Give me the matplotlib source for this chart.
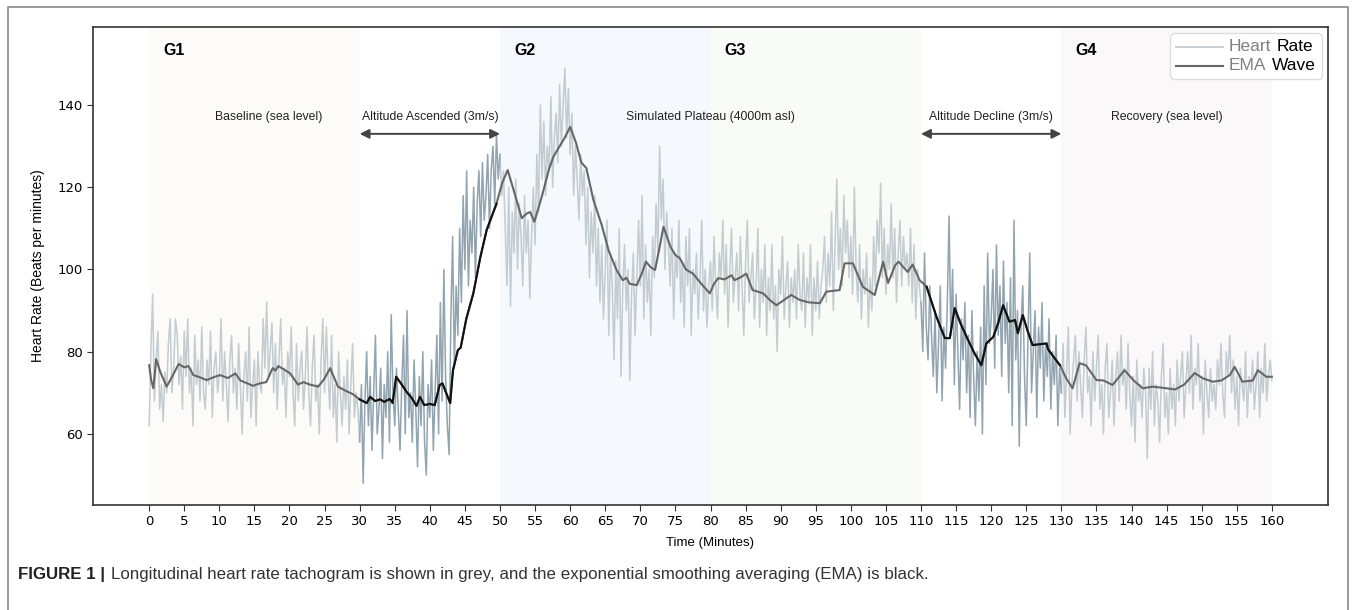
import matplotlib
matplotlib.use("Agg")
import matplotlib.pyplot as plt
from matplotlib.lines import Line2D
from matplotlib.offsetbox import AnchoredOffsetbox, DrawingArea, HPacker, TextArea, VPacker
import numpy as np

# raw heart rate, one sample every 15 s (0.25 min)
hr_g1 = [62, 80, 94, 68, 78, 85, 66, 72,
         63, 75, 70, 82, 88, 70, 76, 88,
         84, 72, 79, 66, 85, 74, 88, 70,
         76, 62, 84, 72, 78, 68, 86, 70,
         66, 78, 72, 85, 64, 76, 80, 70,
         74, 88, 68, 80, 72, 63, 78, 84,
         70, 76, 66, 82, 72, 60, 74, 80,
         68, 86, 64, 72, 78, 62, 80, 72,
         70, 88, 76, 92, 74, 80, 87, 70,
         82, 66, 78, 88, 72, 76, 64, 80,
         74, 86, 70, 62, 82, 68, 76, 80,
         66, 74, 86, 70, 62, 76, 84, 68,
         72, 60, 78, 88, 70, 86, 74, 66,
         84, 64, 72, 58, 80, 70, 62, 74,
         66, 78, 60, 72, 82, 64, 70, 66]
hr_ascent = [58, 72, 48, 68, 80, 62, 74, 56,
             70, 84, 60, 66, 76, 54, 72, 64,
             80, 58, 89, 70, 62, 76, 66, 56,
             72, 84, 60, 90, 64, 70, 58, 78,
             66, 52, 74, 62, 80, 58, 50, 72,
             64, 78, 56, 70, 84, 60, 92, 68,
             100, 74, 62, 55, 88, 108, 76, 96,
             84, 110, 92, 118, 100, 124, 96, 112,
             104, 120, 98, 116, 124, 108, 126, 112,
             118, 128, 110, 124, 130, 116, 133, 122]
hr_g2 = [128, 118, 124, 110, 96, 120, 91, 114,
         104, 122, 100, 116, 108, 96, 118, 104,
         112, 93, 108, 120, 106, 128, 114, 140,
         122, 136, 118, 130, 124, 142, 120, 132,
         138, 126, 145, 130, 140, 149, 132, 144,
         128, 138, 118, 130, 122, 112, 128, 118,
         124, 106, 120, 98, 114, 104, 118, 96,
         110, 92, 106, 88, 100, 112, 84, 104,
         96, 78, 102, 88, 110, 74, 96, 106,
         90, 100, 73, 94, 104, 84, 98, 112,
         96, 118, 88, 106, 92, 100, 84, 108,
         98, 116, 104, 130, 112, 122, 100, 114,
         106, 96, 110, 88, 104, 98, 112, 92,
         102, 86, 108, 96, 110, 84, 100, 94,
         104, 88, 98, 112, 90, 100, 86, 96]
hr_g3 = [102, 90, 108, 96, 88, 104, 98, 112,
         94, 106, 86, 100, 110, 92, 98, 104,
         90, 108, 96, 84, 102, 112, 92, 98,
         104, 88, 96, 110, 86, 100, 92, 106,
         84, 98, 90, 106, 88, 96, 80, 100,
         94, 108, 88, 96, 102, 86, 98, 92,
         100, 88, 106, 94, 90, 104, 86, 98,
         92, 106, 84, 98, 90, 102, 88, 96,
         100, 108, 92, 104, 96, 114, 90, 106,
         122, 100, 110, 96, 118, 104, 112, 98,
         108, 94, 120, 100, 92, 106, 88, 100,
         94, 104, 86, 98, 90, 108, 96, 112,
         104, 121, 98, 110, 94, 106, 100, 116,
         98, 110, 92, 104, 112, 96, 108, 100,
         104, 96, 110, 92, 106, 88, 100, 96]
hr_decline = [92, 80, 104, 86, 78, 96, 84, 74,
              90, 70, 82, 96, 68, 86, 76, 92,
              113, 84, 100, 72, 94, 80, 66, 88,
              78, 92, 70, 84, 64, 90, 74, 62,
              80, 68, 86, 60, 96, 72, 104, 82,
              88, 100, 76, 106, 84, 96, 74, 102,
              82, 92, 70, 98, 62, 112, 78, 90,
              57, 86, 96, 74, 62, 84, 104, 70,
              80, 90, 64, 86, 76, 92, 68, 82,
              74, 88, 66, 80, 72, 84, 62, 76]
hr_g4 = [70, 82, 64, 76, 86, 60, 72, 78,
         84, 68, 80, 72, 64, 78, 86, 70,
         74, 62, 80, 68, 76, 84, 66, 72,
         60, 76, 82, 64, 70, 78, 62, 74,
         80, 68, 84, 72, 76, 66, 82, 70,
         62, 74, 58, 78, 68, 72, 64, 76,
         70, 54, 76, 66, 80, 62, 72, 68,
         58, 74, 82, 64, 70, 60, 76, 66,
         72, 62, 78, 68, 74, 80, 64, 72,
         80, 70, 84, 66, 76, 72, 82, 68,
         74, 60, 78, 70, 64, 76, 68, 72,
         66, 78, 72, 82, 70, 64, 80, 74,
         84, 70, 78, 66, 74, 62, 76, 72,
         68, 80, 64, 74, 70, 78, 66, 72,
         80, 64, 76, 70, 82, 68, 74, 78, 73]

# EMA wave read at its turning points
ema_minutes = [0, 0.3, 0.6, 1.0, 1.6, 2.5, 3.3, 4.2, 5.0, 5.6, 6.3, 7.2, 8.2, 9.2, 10.1,
               11.2, 12.3, 13.0, 14.8, 15.8, 16.7, 17.6, 18.0, 18.4, 19.3, 20.1, 21.2,
               22.0, 22.9, 24.1, 25.0, 25.8, 26.9, 28.0, 29.0, 30.0, 31.0, 31.5, 32.2,
               32.9, 33.5, 34.3, 34.7, 35.2, 36.0, 36.7, 37.4, 38.1, 38.6, 39.2, 40.0,
               40.7, 41.4, 41.8, 42.9, 43.3, 44.0, 44.4, 45.2, 46.2, 47.2, 48.1, 49.5,
               50.3, 51.1, 52.0, 53.1, 53.8, 54.3, 54.9, 56.0, 57.0, 57.6, 58.5, 59.2,
               60.0, 60.8, 61.6, 62.3, 63.3, 64.5, 65.5, 66.6, 67.5, 68.0, 68.5, 69.5,
               70.2, 70.8, 71.5, 72.1, 72.7, 73.3, 74.3, 75.0, 75.6, 76.5, 77.5, 78.7,
               79.9, 80.5, 81.1, 82.0, 83.0, 83.4, 84.2, 85.1, 86.0, 87.5, 88.5, 89.4,
               90.5, 91.5, 92.7, 94.0, 95.6, 96.5, 98.4, 99.1, 100.3, 101.7, 103.4,
               104.6, 105.3, 106.3, 106.8, 108.1, 108.8, 109.8, 110.8, 112.2, 113.4,
               114.1, 114.8, 115.6, 116.5, 117.5, 118.6, 119.3, 120.3, 121.0, 121.7,
               122.6, 123.4, 123.8, 124.5, 125.2, 125.9, 126.8, 127.9, 128.1, 129.0,
               129.8, 130.7, 131.6, 132.6, 133.5, 135.0, 136.0, 137.3, 139.0, 140.3,
               141.6, 143.0, 145.0, 146.2, 147.5, 149.0, 150.2, 151.6, 152.8, 154.0,
               154.7, 155.8, 157.3, 158.0, 159.2, 160.0]
ema_bpm = [76.7, 73, 71.1, 78.2, 75, 71.5, 74, 77, 76.2, 76.5, 74.3, 73.8, 73.1, 73.8, 74.3,
           73.6, 74.7, 73, 71.7, 72.3, 72.6, 76, 75.4, 76.5, 75.6, 74.7, 72,
           72.6, 72, 71.5, 73.5, 76, 71.5, 70.5, 69.7, 68.4, 67.5, 69, 68,
           68.4, 67.8, 68.5, 67.5, 73.9, 72, 70.2, 68.8, 66.8, 69, 67, 67.3,
           67, 71.9, 72.3, 67.5, 75.5, 80.4, 81, 88, 94.2, 103, 109.6, 116,
           121, 124.2, 119, 112.5, 113.6, 114, 111.6, 118, 124.5, 127.4, 130, 132,
           134.7, 131, 126, 124.7, 117, 110.8, 104.5, 99.9, 97.4, 98, 96.5, 96.2,
           99, 101.9, 100.5, 99.9, 105, 110.4, 105.5, 103.5, 102.8, 100, 99, 96.5,
           94.2, 96.5, 97.9, 97.6, 98.6, 97.4, 98, 99, 95, 94.2, 92.5, 91.3,
           92.6, 93.8, 92.6, 92, 91.8, 94.6, 95, 101.5, 101.5, 95.8, 93.8,
           101.9, 96.7, 101, 101.9, 99.4, 101.2, 97.4, 95.8, 88.5, 83.3,
           83.3, 90.6, 87, 83.6, 80, 76.7, 82, 83.6, 87, 91.3,
           87.3, 87.7, 84.5, 88.9, 85, 81.6, 81.8, 82, 80.6, 78.5,
           76.7, 73.5, 71.1, 77.2, 76.7, 73.1, 73, 71.9, 75.5, 73,
           71.1, 71.5, 71.1, 70.8, 72, 74.8, 73.5, 72.7, 73, 74.3,
           76.3, 72.7, 73, 75.5, 73.9, 73.9]

phase_labels = ["Baseline (sea level)", "Altitude Ascended (3m/s)", "Simulated Plateau (4000m asl)",
                "Altitude Decline (3m/s)", "Recovery (sea level)"]
phase_label_x = [17, 40, 80, 120, 145]
group_names = ["G1", "G2", "G3", "G4"]
group_spans = [(0, 30), (50, 80), (80, 110), (130, 160)]
group_colors = ["#fcfbf7", "#f5f9fe", "#f8fbf6", "#faf8f9"]
ramp_spans = [(30, 50), (110, 130)]

hr = np.array(hr_g1 + hr_ascent + hr_g2 + hr_g3 + hr_decline + hr_g4, dtype=float)
t = np.arange(len(hr)) * 0.25
ema_t = np.array(ema_minutes)
ema_v = np.array(ema_bpm)

LIGHT_HR = "#c3ccd1"
DARK_HR = "#91a4b0"
EMA_GREY = "#666666"
FONT = "Liberation Sans"

fig = plt.figure(figsize=(13.55, 6.1), dpi=100)
ax = fig.add_axes([93/1355, 1 - 505/610, (1328 - 93)/1355, (505 - 27)/610])

for (a, b), c in zip(group_spans, group_colors):
    ax.axvspan(a, b, color=c, lw=0, zorder=0)

# raw tachogram: light in the stable phases, darker while the altitude changes
light_masks = [(t <= 30), (t >= 50) & (t <= 110), (t >= 130)]
for m in light_masks:
    ax.plot(t[m], hr[m], color=LIGHT_HR, lw=1.1, zorder=2)
for a, b in ramp_spans:
    m = (t >= a) & (t <= b)
    ax.plot(t[m], hr[m], color=DARK_HR, lw=1.1, zorder=2)

ax.plot(ema_t, ema_v, color=EMA_GREY, lw=1.5, zorder=3)
for a, b in ramp_spans:
    m = (ema_t >= a) & (ema_t <= b)
    ax.plot(ema_t[m], ema_v[m], color="#111111", lw=1.5, zorder=4)

ax.set_xlim(-8, 168)
ax.set_ylim(42.7, 159)
ax.set_xticks(np.arange(0, 161, 5))
ax.set_yticks([60, 80, 100, 120, 140])
ax.tick_params(labelsize=9.5, length=4, color="#333333")
for s in ax.spines.values():
    s.set_color("#333333")
    s.set_linewidth(1.2)
ax.set_xlabel("Time (Minutes)", fontsize=9.5, family=FONT, labelpad=6)
ax.set_ylabel("Heart Rate (Beats per minutes)", fontsize=10, family=FONT, labelpad=9)

# phase annotations
for lab, x in zip(phase_labels, phase_label_x):
    ax.text(x, 137.2, lab, ha="center", va="center", fontsize=8.8, family=FONT, color="#222222")
for a, b in ramp_spans:
    ax.annotate("", xy=(b, 133), xytext=(a, 133),
                arrowprops=dict(arrowstyle="<|-|>", color="#444444", lw=1.4, mutation_scale=14,
                                shrinkA=0, shrinkB=0))
for name, (a, b) in zip(group_names, group_spans):
    ax.text(a + 2, 153.4, name, ha="left", va="center", fontsize=11.5, fontweight="bold", family=FONT)

# legend built by hand: first word grey, second word black
LEG_FS = 12.5

def legend_row(color, lw, first, second):
    da = DrawingArea(34, 8)
    da.add_artist(Line2D([0, 34], [4, 4], color=color, lw=lw))
    tp = dict(fontsize=LEG_FS, family=FONT)
    return HPacker(children=[da,
                             TextArea(first, textprops=dict(color="#808080", **tp)),
                             TextArea(second, textprops=dict(color="black", **tp))],
                   align="center", pad=0, sep=4)

rows = VPacker(children=[legend_row(LIGHT_HR, 1.3, "Heart", "Rate"),
                         legend_row(EMA_GREY, 1.5, "EMA", "Wave")],
               align="left", pad=0, sep=3)
box = AnchoredOffsetbox(loc="upper right", child=rows, pad=0.35, borderpad=0.35,
                        frameon=True, prop=dict(size=LEG_FS))
box.patch.set_boxstyle("round,pad=0,rounding_size=0.3")
box.patch.set_edgecolor("#dddddd")
box.patch.set_linewidth(1.0)
box.set_zorder(6)
ax.add_artist(box)

# caption
fig.text(18/1355, 1 - 574/610, "FIGURE 1 |", fontsize=12.2, fontweight="bold",
         family=FONT, va="center", ha="left", color="#222222")
fig.canvas.draw()
r = fig.canvas.get_renderer()
cap = fig.texts[0].get_window_extent(r)
cx, cy = fig.transFigure.inverted().transform((cap.x1, cap.y0))
fig.text(cx + 6/1355, cy, "Longitudinal heart rate tachogram is shown in grey, and the exponential "
         "smoothing averaging (EMA) is black.", fontsize=12.2, family=FONT,
         va="bottom", ha="left", color="#333333")

# outer frame around the figure panel
fig.add_artist(Line2D([8/1355, 8/1355, 1348/1355, 1348/1355], [0, 1 - 7/610, 1 - 7/610, 0],
                      transform=fig.transFigure, color="#888888", lw=1.2))

fig.savefig("out.png", dpi=100, facecolor="white")
